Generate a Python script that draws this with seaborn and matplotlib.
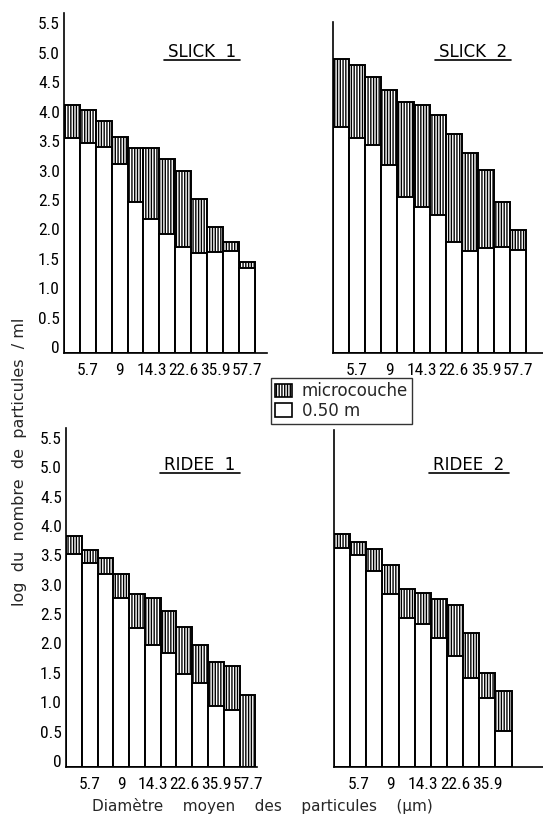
import numpy as np
import pandas as pd
import matplotlib
matplotlib.use("Agg")
import matplotlib.pyplot as plt
from matplotlib.patches import Patch
from matplotlib.lines import Line2D
from matplotlib import font_manager
from matplotlib.font_manager import FontProperties
import seaborn as sns

# ---------------- data ----------------
sizes = ["4.5", "5.7", "7.2", "9", "11.4", "14.3", "18", "22.6", "28.5", "35.9", "45.3", "57.7"]
xtick_labels = ["5.7", "9", "14.3", "22.6", "35.9", "57.7"]
ytick_values = [0, 0.5, 1.0, 1.5, 2.0, 2.5, 3.0, 3.5, 4.0, 4.5, 5.0, 5.5]
ytick_labels = ["0", "0.5", "1.0", "1.5", "2.0", "2.5", "3.0", "3.5", "4.0", "4.5", "5.0", "5.5"]

slick1_micro = [4.21, 4.13, 3.95, 3.68, 3.49, 3.49, 3.29, 3.09, 2.62, 2.14, 1.89, 1.54]
slick1_050 = [3.65, 3.57, 3.50, 3.21, 2.57, 2.27, 2.03, 1.81, 1.70, 1.71, 1.73, 1.45]
slick2_micro = [5.00, 4.90, 4.69, 4.48, 4.27, 4.21, 4.05, 3.72, 3.40, 3.12, 2.56, 2.09]
slick2_050 = [3.84, 3.65, 3.53, 3.19, 2.65, 2.49, 2.34, 1.88, 1.73, 1.78, 1.80, 1.75]
ridee1_micro = [3.93, 3.69, 3.56, 3.28, 2.95, 2.88, 2.66, 2.38, 2.07, 1.79, 1.72, 1.22]
ridee1_050 = [3.62, 3.48, 3.28, 2.88, 2.36, 2.07, 1.94, 1.58, 1.43, 1.04, 0.97, 0.0]
ridee2_micro = [3.96, 3.83, 3.70, 3.44, 3.03, 2.96, 2.85, 2.76, 2.27, 1.60, 1.29]
ridee2_050 = [3.73, 3.61, 3.33, 2.94, 2.53, 2.43, 2.20, 1.89, 1.51, 1.18, 0.61]

titles = ["SLICK  1", "SLICK  2", "RIDEE  1", "RIDEE  2"]
legend_labels = ["microcouche", "0.50 m"]
xlabel = "Diamètre    moyen    des    particules    (µm)"
ylabel = "log  du  nombre  de  particules  / ml"

# ---------------- style ----------------
sns.set_theme(style="white")
plt.rcParams["font.family"] = ["DejaVu Sans"]
plt.rcParams["hatch.linewidth"] = 1.0
plt.rcParams["hatch.color"] = "black"


def find_condensed():
    prefs = ["Liberation Sans Narrow", "Roboto Condensed", "Open Sans Condensed",
             "DejaVu Sans", "Noto Sans", "Roboto", "Open Sans", "Inter"]
    cands = []
    for f in font_manager.fontManager.ttflist:
        fn = f.fname.lower()
        cond = ("condensed" in fn or "narrow" in fn or
                str(f.stretch) in ("condensed", "semi-condensed", "extra-condensed"))
        if not cond:
            continue
        if f.style != "normal" or f.weight not in (400, "normal", "regular"):
            continue
        if "semi" in fn or "extra" in fn or "bold" in fn or "light" in fn or "italic" in fn:
            continue
        rank = prefs.index(f.name) if f.name in prefs else len(prefs)
        cands.append((rank, f.fname))
    if cands:
        cands.sort()
        return cands[0][1]
    return None


cfile = find_condensed()
if cfile:
    tick_fp = FontProperties(fname=cfile, size=12.5)
else:
    tick_fp = FontProperties(family="DejaVu Sans", size=10)

W, H = 543, 815
fig = plt.figure(figsize=(W / 100, H / 100), dpi=100)
fig.patch.set_facecolor("white")


def px_rect(left, top, right, bottom):
    return [left / W, (H - bottom) / H, (right - left) / W, (bottom - top) / H]


# (micro, 0.50m, n bars, rect, ytop, xright, show y labels, title position)
panels = [
    (slick1_micro, slick1_050, 12, px_rect(64, 13, 267, 353), 5.78, 12.27, True, (202, 52)),
    (slick2_micro, slick2_050, 12, px_rect(333, 22, 543, 353), 5.63, 12.54, False, (473, 52)),
    (ridee1_micro, ridee1_050, 12, px_rect(66, 428, 257, 767), 5.77, 11.6, True, (200, 465)),
    (ridee2_micro, ridee2_050, 11, px_rect(334, 430, 543, 767), 5.73, 12.45, False, (469, 465)),
]

for i, (micro, low, n, rect, ytop, xright, showy, tpos) in enumerate(panels):
    ax = fig.add_axes(rect)
    cats = sizes[:n]
    df = pd.DataFrame({"taille": cats, "micro": micro, "m050": low})
    sns.barplot(data=df, x="taille", y="micro", order=cats, color="white",
                edgecolor="black", linewidth=1.4, hatch="||||||", width=1.0,
                errorbar=None, saturation=1, ax=ax)
    sns.barplot(data=df, x="taille", y="m050", order=cats, color="white",
                edgecolor="black", linewidth=1.4, width=1.0,
                errorbar=None, saturation=1, ax=ax)
    ax.set_facecolor("white")
    ax.set_xlim(-0.5, xright)
    ax.set_ylim(0, ytop)
    ax.set_xlabel("")
    ax.set_ylabel("")
    for s in ["top", "right"]:
        ax.spines[s].set_visible(False)
    for s in ["left", "bottom"]:
        ax.spines[s].set_linewidth(1.2)
        ax.spines[s].set_color("black")
    pos = list(range(1, n, 2))
    ax.set_xticks(pos)
    ax.set_xticklabels(xtick_labels[:len(pos)])
    for lbl in ax.get_xticklabels():
        lbl.set_fontproperties(tick_fp)
    ax.set_yticks(ytick_values)
    if showy:
        ax.set_yticklabels(ytick_labels)
        for lbl in ax.get_yticklabels():
            lbl.set_fontproperties(tick_fp)
            lbl.set_va("baseline")
    else:
        ax.set_yticklabels([])
    ax.tick_params(axis="y", direction="in", length=5, width=1.1, pad=3, colors="black")
    ax.tick_params(axis="x", direction="out", length=2.5, width=1.0, pad=5, colors="black")
    ax.grid(False)
    t = fig.text(tpos[0] / W, (H - tpos[1]) / H, titles[i], ha="center", va="center",
                 fontsize=12, color="black")
    ax._title_text = t

# underline titles
fig.canvas.draw()
renderer = fig.canvas.get_renderer()
for ax in fig.axes:
    t = ax._title_text
    bb = t.get_window_extent(renderer)
    y = bb.y0 + 1
    fig.add_artist(Line2D([(bb.x0 - 4) / W, (bb.x1 + 4) / W], [y / H, y / H],
                          transform=fig.transFigure, color="black", lw=1.2))

# legend
handles = [Patch(facecolor="white", edgecolor="black", hatch="||||||", linewidth=1.2),
           Patch(facecolor="white", edgecolor="black", linewidth=1.2)]
leg = fig.legend(handles, legend_labels, loc="upper left",
                 bbox_to_anchor=(271 / W, (H - 378) / H), frameon=True, fancybox=False,
                 edgecolor="black", fontsize=12, handlelength=1.0, handleheight=0.9,
                 handletextpad=0.6, labelspacing=0.1, borderpad=0.25, borderaxespad=0)
leg.get_frame().set_linewidth(1.0)

fig.text(262 / W, (H - 806) / H, xlabel, ha="center", va="center", fontsize=11)
fig.text(20 / W, (H - 462) / H, ylabel, ha="center", va="center", rotation=90, fontsize=11.5)

fig.savefig("out.png", dpi=100, facecolor="white")
